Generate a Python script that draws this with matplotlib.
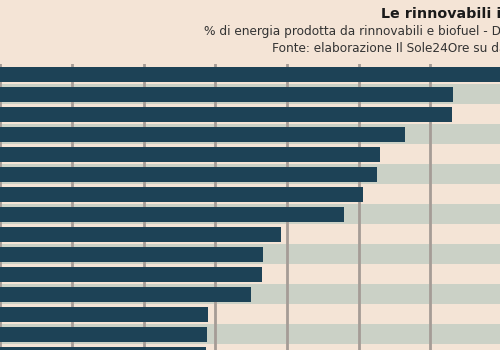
import matplotlib.pyplot as plt

# share of energy from renewables (%), one bar per row, top to bottom
values = [74.0, 63.1, 63.0, 56.5, 53.0, 52.6, 50.6, 48.0,
          39.2, 36.6, 36.5, 35.0, 29.0, 28.8, 28.7]
ticks = [0, 10, 20, 30, 40, 50, 60, 70]

title = "Le rinnovabili in Europa"
subtitle = "% di energia prodotta da rinnovabili e biofuel - Dati 2022"
source = "Fonte: elaborazione Il Sole24Ore su dati Eurostat"

bg = "#f4e4d6"
band = "#cbd1c6"
bar_color = "#1d4256"
grid_color = "#a59c96"

fig = plt.figure(figsize=(5, 3.5), dpi=100, facecolor=bg)
ax = fig.add_axes([0, 0, 1, (350 - 64.3) / 350])
ax.set_facecolor(bg)

rows = range(len(values))
for i in rows:
    if i % 2 == 1:
        ax.axhspan(i - 0.5, i + 0.5, color=band, lw=0, zorder=0)

ax.barh(list(rows), values, height=0.72, color=bar_color, zorder=1)

ax.set_xticks(ticks)
ax.grid(axis="x", color=grid_color, lw=2)
ax.set_axisbelow(True)
ax.tick_params(left=False, bottom=False, labelleft=False, labelbottom=False)
for s in ax.spines.values():
    s.set_visible(False)

ax.set_xlim(-0.04, 500 / 7.167 - 0.04)
ax.set_ylim(13.785, -0.5)

fig.text(381 / 500, 1 - 14 / 350, title, ha="left", va="center",
         weight="bold", size=10.3, color="#1a1a1a")
fig.text(204 / 500, 1 - 31.5 / 350, subtitle, ha="left", va="center",
         size=8.7, color="#333333")
fig.text(272 / 500, 1 - 48 / 350, source, ha="left", va="center",
         size=8.7, color="#333333")

fig.savefig("out.png", dpi=100, facecolor=bg)
